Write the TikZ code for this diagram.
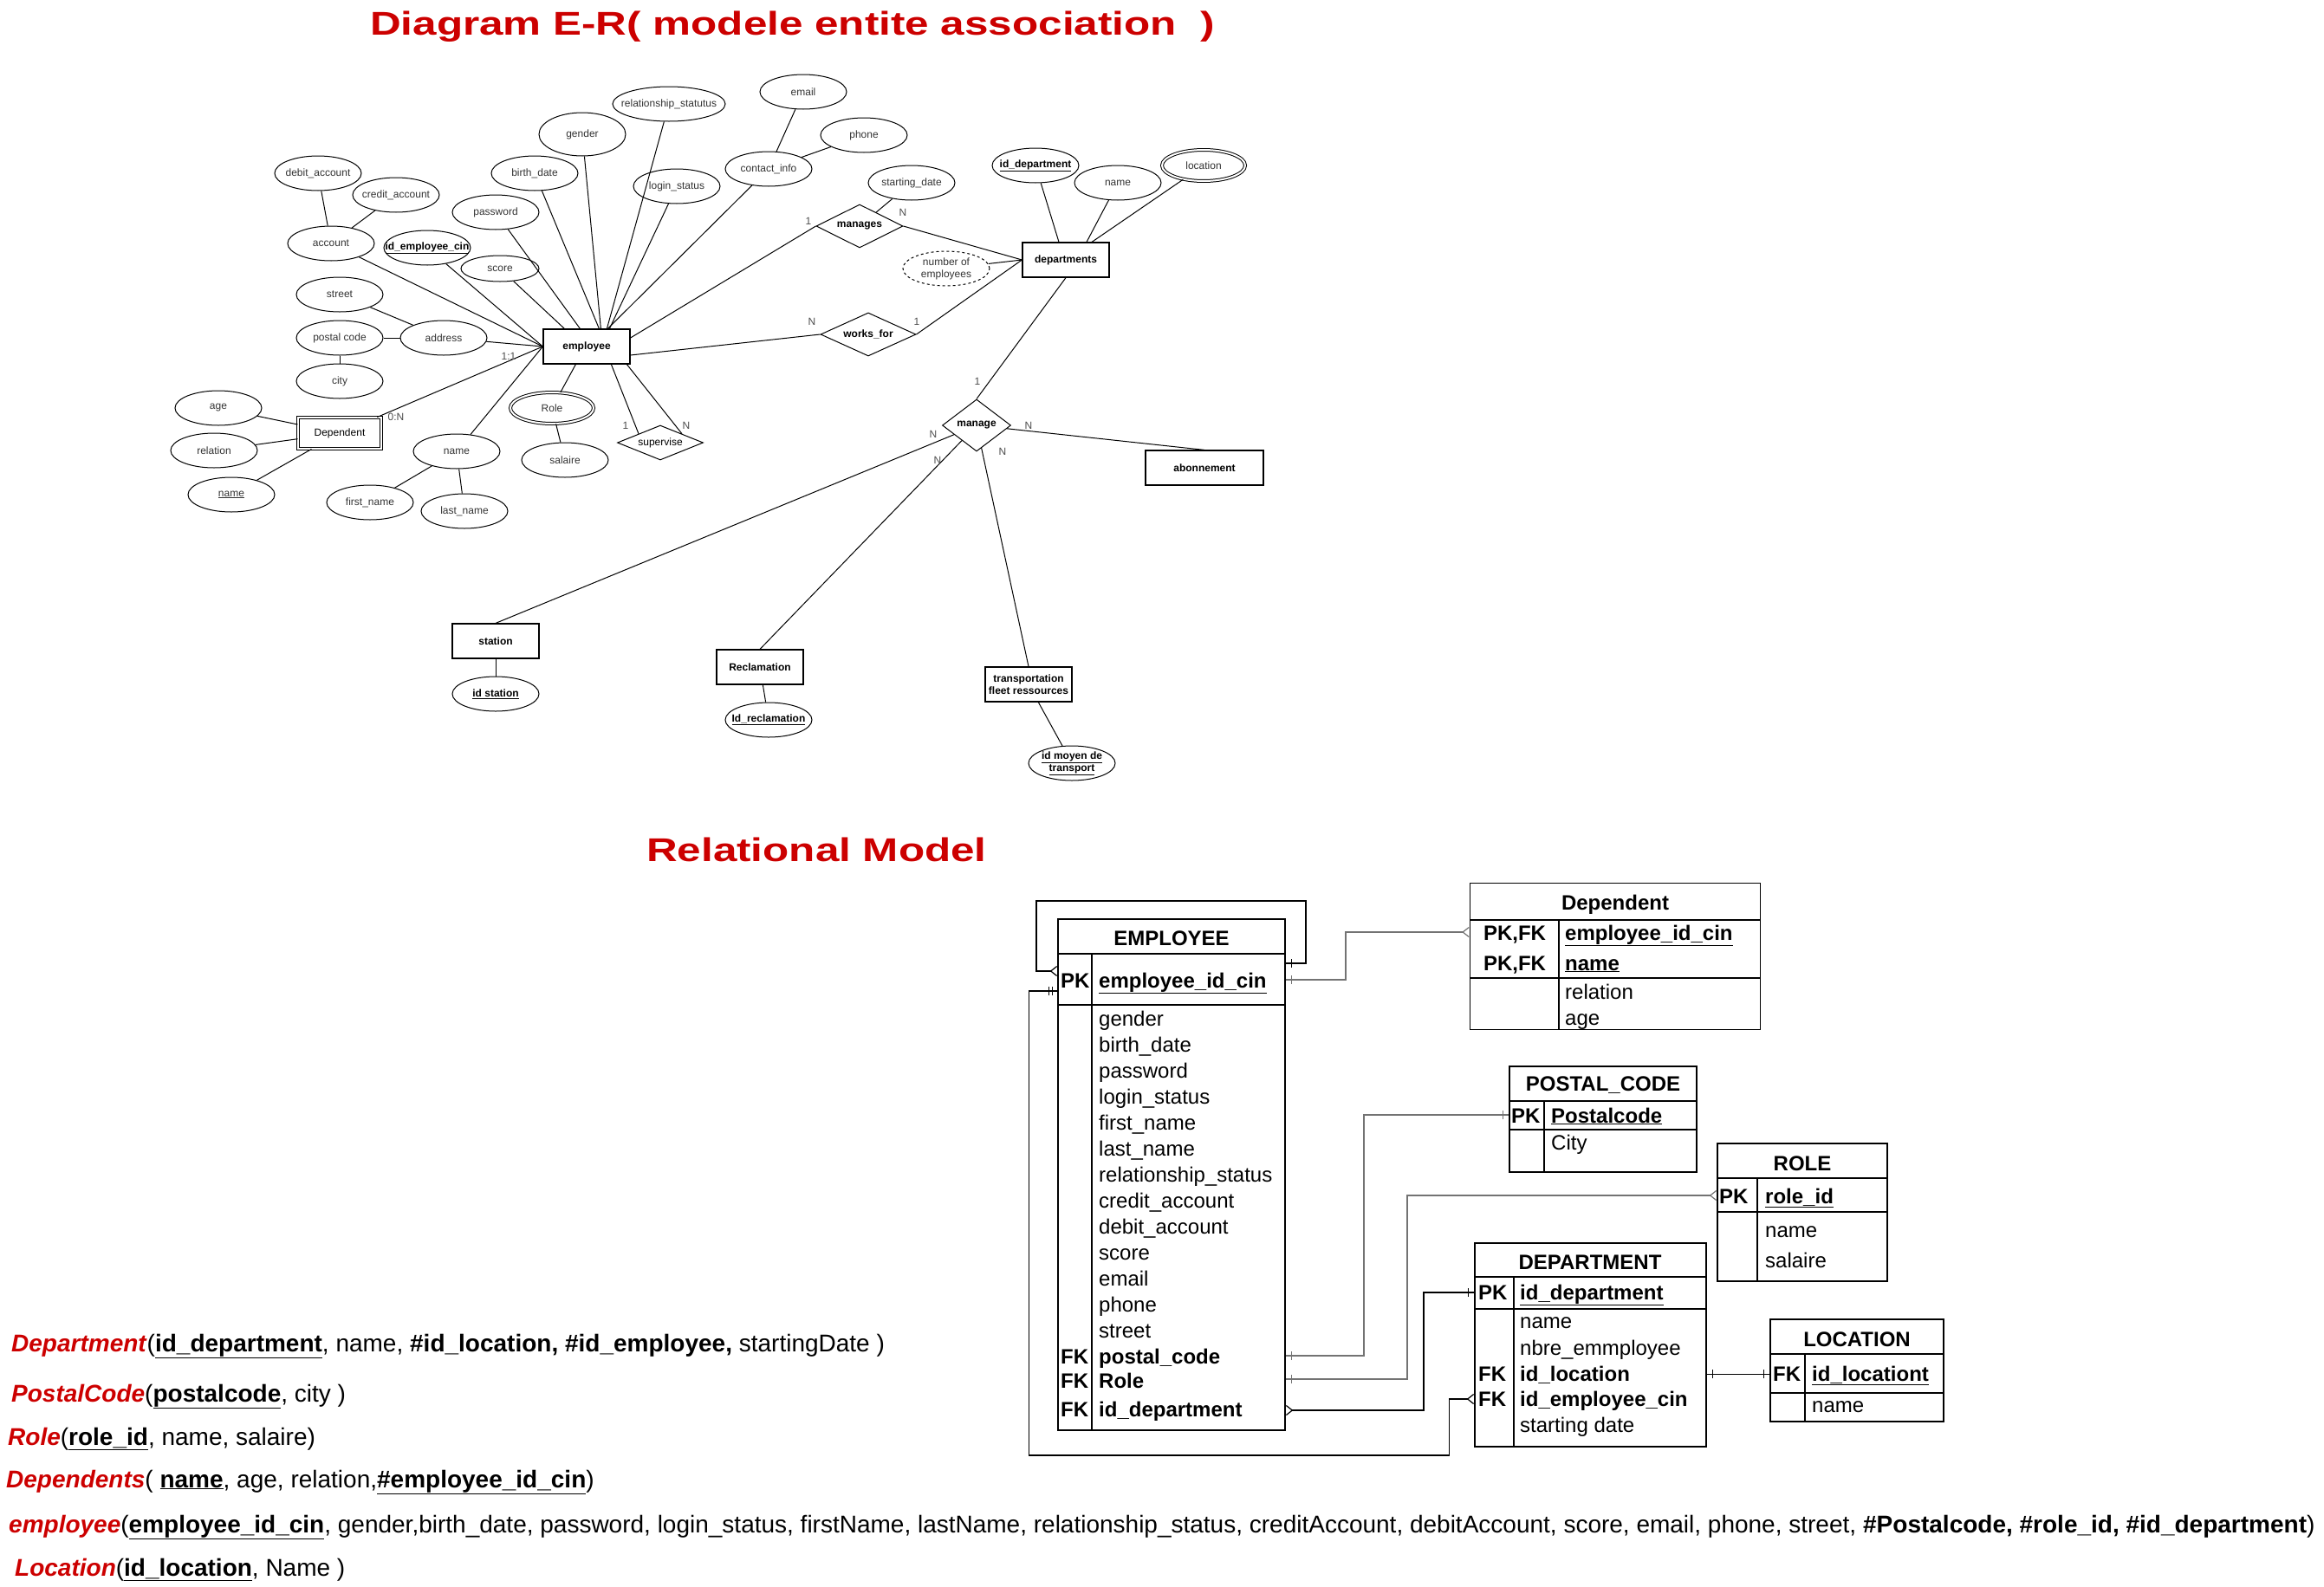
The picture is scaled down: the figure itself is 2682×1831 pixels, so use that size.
\documentclass[tikz,border=0pt]{standalone}
\usepackage{fontspec}
\setmainfont{Liberation Sans}
\usetikzlibrary{shapes.geometric,arrows.meta,decorations.markings}
\definecolor{titlered}{RGB}{204,0,0}

\begin{document}
\begin{tikzpicture}[x=1pt,y=-1pt,
        attr/.style={ellipse,draw,line width=1pt,minimum width=100pt,minimum height=40pt,inner xsep=-25pt,inner ysep=0pt,font=\fontsize{12}{14}\selectfont,text=black!80},
        keyattr/.style={attr,font=\bfseries\fontsize{12}{14}\selectfont,text=black},
        ent/.style={draw,line width=1.2pt,minimum width=100pt,minimum height=40pt,inner sep=0pt,align=center,font=\bfseries\fontsize{12}{14}\selectfont},
        rel/.style={diamond,draw,line width=1pt,aspect=2,inner sep=0pt,font=\bfseries\fontsize{12}{14}\selectfont},
        card/.style={font=\fontsize{12}{14}\selectfont,text=black!70},
        erline/.style={draw,line width=1pt},
        bigtitle/.style={anchor=base west,inner sep=0pt,text=titlered,font=\bfseries\fontsize{38}{44}\selectfont},
        tabbox/.style={draw,line width=1.5pt,inner sep=0pt},
        tabline/.style={line width=1.5pt},
        tabhead/.style={font=\bfseries\fontsize{24}{28}\selectfont},
        fld/.style={anchor=west,inner sep=0pt,text height=17pt,text depth=5pt,font=\fontsize{24}{28}\selectfont},
        keyfld/.style={fld,font=\bfseries\fontsize{24}{28}\selectfont},
        rtext/.style={anchor=base west,inner sep=0pt,font=\fontsize{28}{32}\selectfont},
        crow/.tip={Straight Barb[reversed,length=7pt,width=11pt,line width=1.2pt]},
        rellink/.style={line width=1.5pt},
        greylink/.style={rellink,draw=black!55},
        onestart/.style={postaction={decorate,decoration={markings,mark=at position 7pt with {\draw[-,line width=1.2pt] (0,-5pt) -- (0,5pt);}}}},
        oneend/.style={postaction={decorate,decoration={markings,mark=at position -7pt with {\draw[-,line width=1.2pt] (0,-5pt) -- (0,5pt);}}}},
        twostart/.style={postaction={decorate,decoration={markings,mark=at position 6pt with {\draw[-,line width=1.2pt] (0,-5pt) -- (0,5pt);},mark=at position 10pt with {\draw[-,line width=1.2pt] (0,-5pt) -- (0,5pt);}}}}
    ]
                \useasboundingbox (0,0) rectangle (2682,1831);
                \node[bigtitle] (t-er) at (427,40) {\scalebox{1.3}[1]{Diagram E-R( modele entite association\ \ )}};
                \node[bigtitle] (t-rm) at (746,994) {\scalebox{1.3}[1]{Relational Model}};

                \node[ent] (emp) at (677,400) {employee};
                \node[attr] (debacc) at (367,200) {debit\_account};
                \node[attr] (credacc) at (457,225) {credit\_account};
                \node[attr] (acc) at (382,281) {account};
                \node[keyattr] (idemp) at (493,286) {\underline{id\_employee\_cin}};
                \node[attr] (pwd) at (572,245) {password};
                \node[attr] (bdate) at (617,200) {birth\_date};
                \node[attr,minimum height=50pt] (gender) at (672,155) {gender};
                \node[attr,minimum width=130pt] (relstat) at (772,120) {relationship\_statutus};
                \node[attr] (login) at (781,215) {login\_status};
                \node[attr] (contact) at (887,195) {contact\_info};
                \node[attr] (email) at (927,106) {email};
                \node[attr] (phone) at (997,156) {phone};
                \node[attr,minimum width=90pt,minimum height=30pt] (score) at (577,310) {score};
                \node[attr] (street) at (392,340) {street};
                \node[attr] (pcode) at (392,390) {postal code};
                \node[attr] (addr) at (512,390) {address};
                \node[attr] (city) at (392,440) {city};
                \node[attr] (age) at (252,471) {age};
                \node[attr] (relat) at (247,520) {relation};
                \node[attr] (dname) at (267,571) {\underline{name}};
                \node[ent,line width=1pt,double,double distance=2.5pt,minimum width=96pt,minimum height=36pt,font=\fontsize{12}{14}\selectfont] (depd) at (392,500) {Dependent};
                \node[attr] (ename) at (527,521) {name};
                \node[attr] (fname) at (427,580) {first\_name};
                \node[attr] (lname) at (536,590) {last\_name};
                \node[attr,double,double distance=2pt,minimum width=96pt,minimum height=36pt] (role) at (637,471) {Role};
                \node[attr] (sal) at (652,531) {salaire};
                \node[rel,minimum width=99pt,minimum height=40pt,font=\fontsize{12}{14}\selectfont] (sup) at (762,511) {supervise};
                \node[rel,minimum width=100pt,minimum height=50pt] (mng) at (992,261) {manages};
                \node[attr] (sdate) at (1052,211) {starting\_date};
                \node[rel,minimum width=110pt,minimum height=50pt] (wrk) at (1002,386) {works\_for};
                \node[attr,dashed,align=center] (nemp) at (1092,310) {number of\\employees};
                \node[ent] (dept) at (1230,300) {departments};
                \node[keyattr] (iddep) at (1195,191) {\underline{id\_department}};
                \node[attr] (deptname) at (1290,211) {name};
                \node[attr,double,double distance=2pt,minimum width=96pt,minimum height=36pt] (loc) at (1389,191) {location};
                \node[rel,minimum width=79pt,minimum height=60pt] (mag) at (1127,491) {manage};
                \node[ent,minimum width=136pt] (abo) at (1390,540) {abonnement};
                \node[ent] (sta) at (572,740) {station};
                \node[keyattr] (idsta) at (572,801) {\underline{id station}};
                \node[ent] (rec) at (877,770) {Reclamation};
                \node[keyattr] (idrec) at (887,831) {\underline{Id\_reclamation}};
                \node[ent] (trn) at (1187,790) {transportation\\fleet ressources};
                \node[keyattr,align=center] (idtrn) at (1237,881) {\underline{id moyen de}\\\underline{transport}};

                \path[erline] (emp.west) edge (acc)
                                         edge (idemp)
                                         edge (addr)
                                         edge (depd)
                                         edge (ename)
                        ([xshift=25pt]emp.north west) edge (score)
                        ([xshift=43pt]emp.north west) edge (pwd)
                        ([xshift=65pt]emp.north west) edge (bdate)
                        ([xshift=67pt]emp.north west) edge (gender)
                        ([xshift=74pt]emp.north west) edge (relstat)
                        ([xshift=77pt]emp.north west) edge (login)
                        ([xshift=75pt]emp.north west) edge (contact)
                        ([yshift=10pt]emp.east) edge (mng.west)
                        ([yshift=-10pt]emp.east) edge (wrk.west)
                        ([xshift=38pt]emp.south west) edge (role)
                        ([xshift=79pt]emp.south west) edge (sup.north west)
                        ([xshift=97pt]emp.south west) edge (sup.north east)
                        (acc) edge (debacc)
                              edge (credacc)
                        (addr) edge (street)
                               edge (pcode)
                        (pcode) edge (city)
                        (depd) edge (age)
                               edge (relat)
                               edge (dname)
                        (ename) edge (fname)
                                edge (lname)
                        (role) edge (sal)
                        (contact) edge (email)
                                  edge (phone)
                        (mng) edge (sdate)
                        (mng.east) edge (dept.west)
                        (wrk.east) edge (dept.west)
                        (nemp) edge (dept.west)
                        ([xshift=-8pt]dept.north) edge (iddep)
                        ([xshift=24pt]dept.north) edge (deptname)
                        ([xshift=30pt]dept.north) edge (loc)
                        (dept.south) edge (mag.north)
                        (mag) edge (sta.north)
                              edge (rec.north)
                              edge (trn.north)
                              edge (abo.north)
                        (sta) edge (idsta)
                        (rec) edge (idrec)
                        (trn) edge (idtrn);

                \node[card] (c1) at (587,411) {1:1};
                \node[card] (c2) at (457,481) {0:N};
                \node[card] (c3) at (722,491) {1};
                \node[card] (c4) at (792,491) {N};
                \node[card] (c5) at (933,255) {1};
                \node[card] (c6) at (1042,245) {N};
                \node[card] (c7) at (937,371) {N};
                \node[card] (c8) at (1058,371) {1};
                \node[card] (c9) at (1128,440) {1};
                \node[card] (c10) at (1077,501) {N};
                \node[card] (c11) at (1187,491) {N};
                \node[card] (c12) at (1082,531) {N};
                \node[card] (c13) at (1157,521) {N};

                \node[tabbox,minimum width=262pt,minimum height=590pt] (empt) at (1352,1356) {};
                \node[tabhead] (empt-h) at (1352,1083) {EMPLOYEE};
                \draw[tabline] (empt.west |- 0,1101) -- (empt.east |- 0,1101)
                               (empt.west |- 0,1160) -- (empt.east |- 0,1160)
                               (1260,1101) -- (empt.south -| 1260,0);
                \node[keyfld] (e-k0) at (1224,1134) {PK};
                \node[keyfld] (e-f0) at (1268,1134) {\underline{employee\_id\_cin}};
                \foreach \n [count=\i] in {gender,birth\_date,password,login\_status,first\_name,last\_name,relationship\_status,credit\_account,debit\_account,score,email,phone,street}
                    \node[fld] (e-f\i) at (1268,1148+30*\i) {\n};
                \foreach \n/\y [count=\i] in {postal\_code/1568,Role/1596,id\_department/1629}{
                    \node[keyfld] (e-k\i) at (1224,\y) {FK};
                    \node[keyfld] (e-g\i) at (1268,\y) {\n};
                }

                \node[tabbox,minimum width=335pt,minimum height=169pt] (dpdt) at (1864,1104) {};
                \node[tabhead] (dpdt-h) at (1864,1044) {Dependent};
                \draw[tabline] (dpdt.west |- 0,1062) -- (dpdt.east |- 0,1062)
                               (dpdt.west |- 0,1129) -- (dpdt.east |- 0,1129)
                               (1799,1062) -- (dpdt.south -| 1799,0);
                \node[keyfld,anchor=center] (d-k1) at (1748,1079) {PK,FK};
                \node[keyfld,anchor=center] (d-k2) at (1748,1114) {PK,FK};
                \node[keyfld] (d-f1) at (1806,1079) {\underline{employee\_id\_cin}};
                \node[keyfld] (d-f2) at (1806,1114) {\underline{name}};
                \node[fld] (d-f3) at (1806,1147) {relation};
                \node[fld] (d-f4) at (1806,1177) {age};

                \node[tabbox,minimum width=216pt,minimum height=122pt] (pct) at (1850,1292) {};
                \node[tabhead] (pct-h) at (1850,1253) {POSTAL\_CODE};
                \draw[tabline] (pct.west |- 0,1271) -- (pct.east |- 0,1271)
                               (pct.west |- 0,1304) -- (pct.east |- 0,1304)
                               (1782,1271) -- (pct.south -| 1782,0);
                \node[keyfld] (p-k1) at (1744,1290) {PK};
                \node[keyfld] (p-f1) at (1790,1290) {\underline{Postalcode}};
                \node[fld] (p-f2) at (1790,1321) {City};

                \node[tabbox,minimum width=196pt,minimum height=159pt] (rolt) at (2080,1399.5) {};
                \node[tabhead] (rolt-h) at (2080,1343) {ROLE};
                \draw[tabline] (rolt.west |- 0,1360) -- (rolt.east |- 0,1360)
                               (rolt.west |- 0,1399) -- (rolt.east |- 0,1399)
                               (2028,1360) -- (rolt.south -| 2028,0);
                \node[keyfld] (r-k1) at (1984,1383) {PK};
                \node[keyfld] (r-f1) at (2037,1383) {\underline{role\_id}};
                \node[fld] (r-f2) at (2037,1422) {name};
                \node[fld] (r-f3) at (2037,1457) {salaire};

                \node[tabbox,minimum width=267pt,minimum height=235pt] (dpmt) at (1835.5,1552.5) {};
                \node[tabhead] (dpmt-h) at (1835,1457) {DEPARTMENT};
                \draw[tabline] (dpmt.west |- 0,1474) -- (dpmt.east |- 0,1474)
                               (dpmt.west |- 0,1511) -- (dpmt.east |- 0,1511)
                               (1747,1474) -- (dpmt.south -| 1747,0);
                \node[keyfld] (m-k1) at (1706,1494) {PK};
                \node[keyfld] (m-f1) at (1754,1494) {\underline{id\_department}};
                \node[fld] (m-f2) at (1754,1527) {name};
                \node[fld] (m-f3) at (1754,1558) {nbre\_emmployee};
                \node[keyfld] (m-k4) at (1706,1588) {FK};
                \node[keyfld] (m-f4) at (1754,1588) {id\_location};
                \node[keyfld] (m-k5) at (1706,1617) {FK};
                \node[keyfld] (m-f5) at (1754,1617) {id\_employee\_cin};
                \node[fld] (m-f6) at (1754,1647) {starting date};

                \node[tabbox,minimum width=200pt,minimum height=118pt] (loct) at (2143,1582) {};
                \node[tabhead] (loct-h) at (2143,1546) {LOCATION};
                \draw[tabline] (loct.west |- 0,1563) -- (loct.east |- 0,1563)
                               (loct.west |- 0,1608) -- (loct.east |- 0,1608)
                               (2083,1563) -- (loct.south -| 2083,0);
                \node[keyfld] (l-k1) at (2046,1588) {FK};
                \node[keyfld] (l-f1) at (2091,1588) {\underline{id\_locationt}};
                \node[fld] (l-f2) at (2091,1624) {name};

                \coordinate (e-self1) at (empt.east |- 0,1112);
                \coordinate (e-self2) at (empt.west |- 0,1121);
                \coordinate (e-pk) at (empt.west |- 0,1144);
                \coordinate (e-dpd) at (empt.east |- 0,1131);
                \coordinate (e-pc) at (empt.east |- 0,1565);
                \coordinate (e-role) at (empt.east |- 0,1592);
                \coordinate (e-did) at (empt.east |- 0,1628);
                \coordinate (d-emp) at (dpdt.west |- 0,1076);
                \coordinate (p-pk) at (pct.west |- 0,1287);
                \coordinate (r-pk) at (rolt.west |- 0,1380);
                \coordinate (m-pk) at (dpmt.west |- 0,1492);
                \coordinate (m-emp) at (dpmt.west |- 0,1615);
                \coordinate (m-loc) at (dpmt.east |- 0,1586);
                \coordinate (l-fk) at (loct.west |- 0,1586);

                \draw[rellink,onestart,-{crow}] (e-self1) -- ++(23,0) -- ++(0,-72) -- ++(-311,0) -- ++(0,81) -- (e-self2);
                \draw[rellink,twostart,-{crow}] (e-pk) -- ++(-33,0) |- ++(485,536) |- (m-emp);
                \draw[greylink,onestart,-{crow}] (e-dpd) -- ++(69,0) |- (d-emp);
                \draw[greylink,onestart,oneend] (e-pc) -- ++(90,0) |- (p-pk);
                \draw[greylink,onestart,-{crow}] (e-role) -- ++(140,0) |- (r-pk);
                \draw[rellink,{crow}-,oneend] (e-did) -- ++(159,0) |- (m-pk);
                \draw[rellink,line width=1pt,onestart,oneend] (m-loc) -- (l-fk);

                \node[rtext] (r-dept) at (13,1560) {\textcolor{titlered}{\textbf{\textit{Department}}}(\textbf{\underline{id\_department}}, name, \textbf{\#id\_location, \#id\_employee,} startingDate )};
                \node[rtext] (r-pc) at (13,1618) {\textcolor{titlered}{\textbf{\textit{PostalCode}}}(\textbf{\underline{postalcode}}, city )};
                \node[rtext] (r-role) at (9,1668) {\textcolor{titlered}{\textbf{\textit{Role}}}(\textbf{\underline{role\_id}}, name, salaire)};
                \node[rtext] (r-dpd) at (7,1717) {\textcolor{titlered}{\textbf{\textit{Dependents}}}( \textbf{\underline{name}}, age, relation,\textbf{\underline{\#employee\_id\_cin}})};
                \node[rtext] (r-emp) at (10,1769) {\textcolor{titlered}{\textbf{\textit{employee}}}(\textbf{\underline{employee\_id\_cin}}, gender,birth\_date, password, login\_status, firstName, lastName, relationship\_status, creditAccount, debitAccount, score, email, phone, street, \textbf{\#Postalcode, \#role\_id, \#id\_department})};
                \node[rtext] (r-loc) at (17,1819) {\textcolor{titlered}{\textbf{\textit{Location}}}(\textbf{\underline{id\_location}}, Name )};
            \end{tikzpicture}
\end{document}
